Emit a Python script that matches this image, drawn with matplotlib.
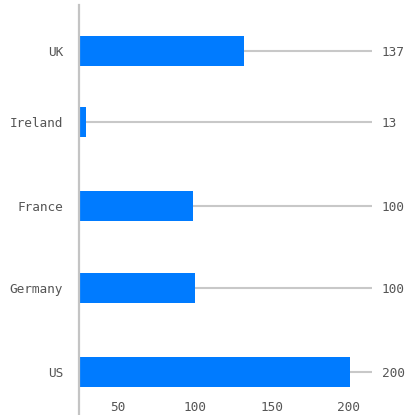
import matplotlib
matplotlib.use("Agg")
import matplotlib.pyplot as plt

# Country bars (drawn length) and the totals listed on the right-hand side
countries = ["UK", "Ireland", "France", "Germany", "US"]
bar_values = [132, 29, 99, 100, 201]
totals = ["137", "13", "100", "100", "200"]
x_ticks = [50, 100, 150, 200]

# row placement along the vertical axis
row_pos = [0.0, 0.885, 1.93, 2.953, 4.0]

BLUE = "#007bff"
GRID = "#c8c8c8"
TEXT = "#555555"
FONT = "DejaVu Sans Mono"

fig = plt.figure(figsize=(4.08, 4.15), dpi=100)
W, H = 408, 415
left, right, top, bottom = 78.5, 372, 5, 418
ax = fig.add_axes([left / W, (H - bottom) / H, (right - left) / W, (bottom - top) / H])

ax.barh(row_pos, bar_values, height=0.37, color=BLUE, zorder=3)

ax.set_xlim(24.3, 215.3)
ax.set_ylim(4.573, -0.573)

# horizontal guide lines through every bar
ax.set_yticks(row_pos)
ax.yaxis.grid(True, color=GRID, linewidth=1.5, zorder=1)
ax.xaxis.grid(False)
ax.set_axisbelow(True)

ax.set_yticklabels(countries, fontfamily=FONT, fontsize=9.2, color=TEXT)
ax.tick_params(axis="y", length=0, pad=11)

ax.set_xticks(x_ticks)
ax.set_xticklabels([str(t) for t in x_ticks], fontfamily=FONT, fontsize=9.2, color=TEXT)
ax.tick_params(axis="x", length=0, pad=-12.5)

# totals on the right edge
ax2 = ax.twinx()
ax2.set_ylim(ax.get_ylim())
ax2.set_yticks(row_pos)
ax2.set_yticklabels(totals, fontfamily=FONT, fontsize=9.2, color=TEXT)
ax2.tick_params(axis="y", length=0, pad=7)

for a in (ax, ax2):
    for s in ("top", "right", "bottom"):
        a.spines[s].set_visible(False)
ax2.spines["left"].set_visible(False)
ax.spines["left"].set_color("#c4c4c4")
ax.spines["left"].set_linewidth(1.6)
ax.spines["left"].set_zorder(4)

fig.savefig("out.png", dpi=100)
